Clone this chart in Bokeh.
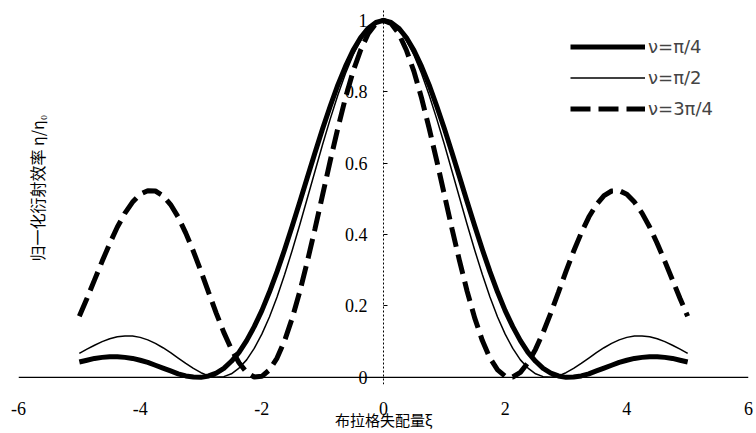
from bokeh.plotting import figure
from bokeh.models import Range1d, FixedTicker, CustomJSTickFormatter, Legend, LegendItem, Label, Span
from bokeh.embed import file_html
from bokeh.resources import INLINE

# Bragg mismatch xi
xi = [-5.0, -4.875, -4.75, -4.625, -4.5, -4.375, -4.25, -4.125, -4.0, -3.875,
      -3.75, -3.625, -3.5, -3.375, -3.25, -3.125, -3.0, -2.875, -2.75, -2.625,
      -2.5, -2.375, -2.25, -2.125, -2.0, -1.875, -1.75, -1.625, -1.5, -1.375,
      -1.25, -1.125, -1.0, -0.875, -0.75, -0.625, -0.5, -0.375, -0.25, -0.125,
      0.0,
      0.125, 0.25, 0.375, 0.5, 0.625, 0.75, 0.875, 1.0, 1.125, 1.25,
      1.375, 1.5, 1.625, 1.75, 1.875, 2.0, 2.125, 2.25, 2.375, 2.5,
      2.625, 2.75, 2.875, 3.0, 3.125, 3.25, 3.375, 3.5, 3.625, 3.75,
      3.875, 4.0, 4.125, 4.25, 4.375, 4.5, 4.625, 4.75, 4.875, 5.0]

# normalised diffraction efficiency eta/eta0
eta_pi4 = [0.043, 0.048, 0.053, 0.056, 0.058, 0.058, 0.056, 0.053, 0.048, 0.042,
           0.034, 0.026, 0.018, 0.010, 0.004, 0.001, 0.000, 0.004, 0.012, 0.025,
           0.045, 0.070, 0.103, 0.142, 0.187, 0.239, 0.296, 0.358, 0.424, 0.492,
           0.561, 0.630, 0.697, 0.760, 0.819, 0.871, 0.916, 0.952, 0.978, 0.994,
           1.000,
           0.994, 0.978, 0.952, 0.916, 0.871, 0.819, 0.760, 0.697, 0.630, 0.561,
           0.492, 0.424, 0.358, 0.296, 0.239, 0.187, 0.142, 0.103, 0.070, 0.045,
           0.025, 0.012, 0.004, 0.000, 0.001, 0.004, 0.010, 0.018, 0.026, 0.034,
           0.042, 0.048, 0.053, 0.056, 0.058, 0.058, 0.056, 0.053, 0.048, 0.043]
eta_pi2 = [0.067, 0.079, 0.090, 0.100, 0.108, 0.114, 0.116, 0.116, 0.112, 0.105,
           0.095, 0.083, 0.069, 0.054, 0.039, 0.025, 0.013, 0.004, 0.000, 0.002,
           0.010, 0.026, 0.049, 0.081, 0.121, 0.169, 0.225, 0.288, 0.356, 0.428,
           0.503, 0.578, 0.653, 0.724, 0.791, 0.851, 0.903, 0.944, 0.975, 0.994,
           1.000,
           0.994, 0.975, 0.944, 0.903, 0.851, 0.791, 0.724, 0.653, 0.578, 0.503,
           0.428, 0.356, 0.288, 0.225, 0.169, 0.121, 0.081, 0.049, 0.026, 0.010,
           0.002, 0.000, 0.004, 0.013, 0.025, 0.039, 0.054, 0.069, 0.083, 0.095,
           0.105, 0.112, 0.116, 0.116, 0.114, 0.108, 0.100, 0.090, 0.079, 0.067]
eta_3pi4 = [0.171, 0.221, 0.273, 0.325, 0.375, 0.421, 0.460, 0.491, 0.513, 0.523,
            0.522, 0.509, 0.484, 0.449, 0.404, 0.353, 0.297, 0.238, 0.180, 0.126,
            0.079, 0.041, 0.014, 0.001, 0.003, 0.021, 0.054, 0.103, 0.166, 0.241,
            0.326, 0.417, 0.512, 0.607, 0.698, 0.783, 0.857, 0.917, 0.963, 0.991,
            1.000,
            0.991, 0.963, 0.917, 0.857, 0.783, 0.698, 0.607, 0.512, 0.417, 0.326,
            0.241, 0.166, 0.103, 0.054, 0.021, 0.003, 0.001, 0.014, 0.041, 0.079,
            0.126, 0.180, 0.238, 0.297, 0.353, 0.404, 0.449, 0.484, 0.509, 0.522,
            0.523, 0.513, 0.491, 0.460, 0.421, 0.375, 0.325, 0.273, 0.221, 0.171]

series_labels = ["ν=π/4", "ν=π/2", "ν=3π/4"]
x_ticks = [-6, -4, -2, 0, 2, 4, 6]
y_ticks = [0, 0.2, 0.4, 0.6, 0.8, 1.0]

p = figure(frame_width=730, frame_height=376,
           x_range=Range1d(-6, 6), y_range=Range1d(-0.02, 1.0332),
           output_backend="svg", toolbar_location=None,
           min_border_left=18, min_border_right=6,
           min_border_top=8, min_border_bottom=40)
p.outline_line_color = None
p.grid.visible = False
p.background_fill_color = "white"
p.border_fill_color = "white"

# baseline (x axis line at zero)
p.add_layout(Span(location=0, dimension="width", line_color="black", line_width=1.2, level="underlay"))

r1 = p.line(xi, eta_pi4, line_color="black", line_width=5, line_join="round")
r2 = p.line(xi, eta_pi2, line_color="black", line_width=1.5, line_join="round")
r3 = p.line(xi, eta_3pi4, line_color="black", line_width=5, line_dash="20 8")

# x axis
xa = p.xaxis[0]
xa.ticker = FixedTicker(ticks=x_ticks)
xa.formatter = CustomJSTickFormatter(code="return tick.toFixed(0);")
xa.axis_line_color = None
xa.major_tick_line_color = None
xa.minor_tick_line_color = None
xa.major_label_standoff = 11
xa.major_label_text_font = "Liberation Serif"
xa.major_label_text_font_size = "18px"
xa.major_label_text_color = "black"
xa.axis_label = "布拉格失配量ξ"
xa.axis_label_text_font = "Noto Sans CJK SC"
xa.axis_label_text_font_style = "normal"
xa.axis_label_text_font_size = "15px"
xa.axis_label_text_color = "black"
xa.axis_label_standoff = -9

# y axis
ya = p.yaxis[0]
ya.fixed_location = 0
ya.ticker = FixedTicker(ticks=y_ticks)
ya.formatter = CustomJSTickFormatter(code="if (tick == 0) return '0'; if (Math.abs(tick - 1) < 1e-9) return '1'; return tick.toFixed(1);")
ya.major_tick_in = 4
ya.major_tick_out = 0
ya.minor_tick_line_color = None
ya.axis_line_dash = "2 2"
ya.axis_line_width = 1
ya.axis_line_color = "black"
ya.major_label_standoff = 16
ya.major_label_text_font = "Liberation Serif"
ya.major_label_text_font_size = "18px"
ya.major_label_text_color = "black"
ya.level = "underlay"

p.add_layout(Label(x=-5.7, y=0.53, text="归一化衍射效率 η/η₀", angle=90, angle_units="deg",
                   text_align="center", text_baseline="middle",
                   text_font="Noto Sans CJK SC", text_font_size="16px", text_color="black"))

legend = Legend(items=[LegendItem(label=series_labels[0], renderers=[r1]),
                       LegendItem(label=series_labels[1], renderers=[r2]),
                       LegendItem(label=series_labels[2], renderers=[r3])],
                location=(552, 260), padding=0, margin=0, spacing=0,
                glyph_width=75, glyph_height=31, label_height=31, label_standoff=3,
                label_text_font="DejaVu Sans", label_text_font_size="18px",
                background_fill_alpha=0, border_line_color=None)
p.add_layout(legend)

open("out.html", "w").write(file_html(p, INLINE))
